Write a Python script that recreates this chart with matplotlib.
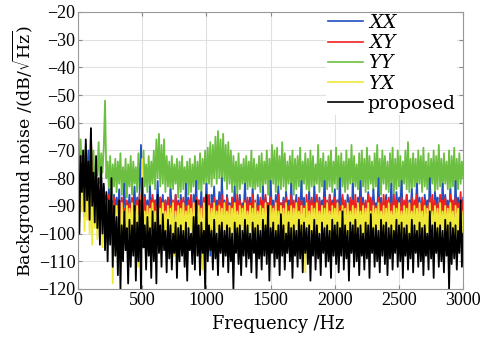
import numpy as np
import matplotlib
matplotlib.use('Agg')
import matplotlib.pyplot as plt

# Noise spectra, as magnitudes in dB/sqrt(Hz) (plotted negative),
# evenly spaced over 0-3000 Hz (10 Hz steps)
yy = -np.array([
    55, 78, 66, 80, 70, 83, 68, 76, 72, 82,  65, 80, 70, 84, 74, 79, 67, 82, 71, 78,
    69, 52, 80, 74, 84, 72, 86, 75, 83, 73,  85, 74, 82, 71, 86, 76, 84, 73, 87, 75,
    83, 72, 86, 74, 82, 76, 85, 71, 84, 73,  86, 70, 83, 75, 85, 72, 84, 74, 82, 70,
    84, 66, 80, 64, 83, 68, 82, 66, 85, 72,  83, 74, 86, 72, 84, 75, 82, 73, 87, 74,
    85, 72, 84, 76, 83, 74, 86, 73, 85, 75,  83, 72, 85, 74, 84, 71, 86, 73, 82, 70,
    84, 69, 82, 67, 83, 68, 80, 65, 82, 63,  80, 66, 83, 64, 81, 68, 84, 67, 82, 70,
    85, 72, 83, 74, 86, 71, 84, 75, 82, 73,  85, 72, 84, 74, 83, 70, 86, 73, 84, 75,
    83, 72, 85, 71, 84, 74, 82, 70, 86, 73,  84, 68, 82, 70, 85, 69, 83, 72, 84, 67,
    83, 71, 85, 74, 82, 72, 84, 70, 86, 73,  84, 72, 83, 69, 85, 74, 82, 71, 84, 73,
    86, 70, 83, 72, 84, 75, 82, 68, 85, 73,  83, 71, 86, 74, 84, 72, 83, 70, 85, 74,
    82, 69, 84, 72, 86, 71, 83, 74, 85, 70,  84, 73, 82, 68, 85, 72, 83, 75, 84, 71,
    86, 70, 83, 73, 85, 69, 84, 72, 82, 74,  85, 71, 83, 68, 84, 73, 86, 70, 82, 72,
    84, 74, 85, 71, 83, 69, 86, 73, 84, 70,  83, 72, 85, 74, 82, 70, 84, 67, 85, 73,
    84, 71, 83, 73, 86, 70, 82, 72, 85, 69,  83, 74, 84, 71, 86, 73, 82, 70, 85, 72,
    84, 68, 83, 73, 85, 71, 82, 74, 84, 70,  86, 72, 83, 69, 85, 73, 84, 71, 82, 74,
    80])
xx = -np.array([
    70, 95, 74, 88, 72, 90, 76, 86, 70, 92,  78, 96, 82, 90, 76, 94, 84, 92, 80, 95,
    83, 91, 86, 94, 84, 90, 88, 95, 86, 92,  87, 93, 84, 96, 88, 91, 82, 94, 89, 92,
    86, 93, 88, 90, 83, 95, 87, 92, 85, 68,  89, 94, 86, 91, 88, 95, 83, 92, 87, 93,
    88, 92, 81, 94, 87, 91, 86, 95, 88, 92,  87, 93, 84, 90, 89, 96, 86, 92, 88, 94,
    86, 91, 88, 95, 82, 93, 87, 90, 89, 94,  86, 92, 81, 95, 88, 91, 85, 94, 88, 92,
    82, 93, 87, 108, 86, 92, 83, 95, 88, 91, 85, 94, 80, 92, 88, 95, 86, 90, 89, 93,
    87, 92, 83, 95, 88, 91, 86, 94, 89, 92,  82, 93, 88, 90, 87, 95, 84, 92, 89, 94,
    86, 91, 88, 95, 83, 93, 87, 90, 89, 94,  81, 92, 88, 95, 86, 91, 83, 94, 89, 92,
    87, 93, 85, 90, 88, 95, 82, 92, 89, 91,  86, 94, 88, 92, 81, 95, 87, 91, 89, 93,
    85, 92, 88, 94, 83, 90, 89, 95, 87, 92,  88, 91, 81, 93, 89, 95, 86, 92, 88, 90,
    84, 94, 88, 92, 80, 95, 87, 91, 89, 93,  86, 90, 88, 94, 82, 92, 89, 95, 87, 91,
    81, 93, 87, 92, 89, 95, 85, 90, 88, 94,  84, 91, 89, 93, 80, 95, 87, 92, 89, 90,
    86, 94, 88, 91, 82, 93, 89, 95, 85, 92,  87, 90, 81, 94, 89, 92, 86, 95, 88, 91,
    84, 93, 89, 90, 82, 94, 87, 92, 89, 95,  86, 91, 88, 93, 80, 92, 89, 94, 85, 90,
    87, 95, 89, 92, 82, 93, 86, 91, 88, 94,  84, 92, 89, 95, 81, 93, 87, 90, 89, 92,
    87])
xy = -np.array([
    68, 92, 72, 88, 75, 94, 70, 90, 82, 95,  62, 91, 80, 94, 84, 96, 86, 93, 82, 95,
    85, 92, 88, 97, 86, 94, 89, 96, 87, 93,  90, 95, 88, 97, 87, 94, 91, 96, 88, 93,
    89, 96, 87, 94, 90, 97, 88, 93, 86, 95,  89, 96, 87, 93, 90, 95, 88, 97, 86, 94,
    88, 95, 90, 93, 87, 96, 89, 94, 88, 97,  87, 94, 90, 96, 88, 93, 86, 95, 89, 97,
    88, 94, 87, 96, 90, 93, 88, 95, 86, 94,  89, 97, 87, 93, 88, 96, 90, 94, 87, 95,
    88, 93, 86, 96, 89, 94, 87, 97, 90, 93,  88, 95, 86, 94, 89, 96, 87, 93, 90, 95,
    87, 94, 89, 96, 86, 93, 88, 95, 90, 94,  88, 96, 87, 93, 89, 95, 86, 94, 88, 97,
    90, 93, 87, 95, 88, 94, 86, 96, 89, 93,  87, 95, 90, 94, 88, 96, 86, 93, 89, 95,
    88, 94, 87, 96, 90, 93, 86, 95, 88, 94,  89, 96, 87, 93, 88, 95, 90, 94, 86, 96,
    88, 93, 87, 95, 89, 94, 86, 96, 88, 93,  90, 95, 87, 94, 88, 96, 86, 93, 89, 95,
    87, 94, 88, 96, 90, 93, 86, 95, 88, 94,  89, 96, 87, 93, 88, 95, 86, 94, 90, 96,
    87, 93, 89, 95, 88, 94, 86, 96, 87, 93,  88, 95, 90, 94, 87, 96, 89, 93, 86, 95,
    88, 94, 87, 96, 89, 93, 86, 95, 88, 94,  90, 96, 87, 93, 88, 95, 86, 94, 89, 96,
    87, 93, 88, 95, 86, 94, 89, 96, 87, 93,  88, 95, 90, 94, 87, 96, 86, 93, 88, 95,
    89, 94, 86, 96, 88, 93, 87, 95, 90, 94,  86, 96, 88, 93, 87, 95, 89, 94, 85, 96,
    88])
yx = -np.array([
    70, 96, 73, 92, 75, 99, 72, 95, 78, 100,  80, 104, 82, 98, 86, 102, 88, 100, 90, 105,
    89, 99, 88, 102, 91, 100, 89, 118, 92, 99,  90, 101, 91, 110, 89, 100, 92, 104, 90, 99,
    91, 101, 89, 100, 92, 99, 90, 112, 91, 100,  73, 99, 92, 102, 90, 100, 91, 99, 89, 101,
    92, 100, 90, 99, 91, 102, 89, 100, 92, 99,  90, 101, 91, 100, 89, 108, 92, 102, 90, 100,
    91, 99, 89, 101, 92, 100, 90, 99, 91, 102,  89, 100, 92, 99, 90, 101, 91, 113, 89, 99,
    92, 102, 90, 100, 91, 99, 89, 101, 92, 100,  90, 99, 91, 102, 89, 100, 92, 99, 90, 101,
    91, 100, 89, 99, 92, 102, 90, 100, 91, 99,  89, 101, 92, 100, 90, 99, 91, 102, 89, 100,
    92, 99, 90, 101, 91, 100, 89, 99, 92, 102,  90, 100, 91, 99, 89, 101, 92, 100, 90, 99,
    91, 102, 89, 100, 92, 99, 90, 101, 91, 100,  89, 99, 92, 102, 90, 100, 91, 114, 89, 101,
    92, 100, 90, 99, 91, 102, 89, 100, 92, 99,  90, 101, 91, 100, 89, 99, 92, 102, 90, 100,
    91, 99, 89, 101, 92, 100, 90, 99, 91, 102,  89, 100, 92, 99, 90, 101, 91, 100, 89, 99,
    92, 102, 90, 100, 91, 99, 89, 101, 92, 100,  90, 99, 91, 102, 89, 100, 92, 99, 90, 101,
    91, 100, 89, 99, 92, 102, 90, 100, 91, 99,  89, 101, 92, 100, 90, 99, 91, 102, 89, 100,
    92, 99, 90, 101, 91, 100, 89, 99, 92, 102,  90, 100, 91, 99, 89, 101, 92, 100, 90, 99,
    91, 102, 89, 100, 92, 99, 90, 101, 91, 100,  89, 99, 92, 102, 90, 100, 91, 99, 89, 101,
    92])
proposed = -np.array([
    68, 100, 72, 85, 70, 92, 66, 88, 74, 95,  62, 90, 78, 96, 72, 98, 80, 104, 76, 100,
    82, 106, 85, 110, 88, 104, 80, 112, 90, 108,  94, 115, 88, 120, 97, 110, 92, 106, 98, 118,
    95, 112, 97, 108, 90, 117, 96, 110, 88, 120,  80, 105, 97, 113, 94, 108, 98, 116, 92, 110,
    96, 118, 86, 107, 97, 112, 93, 106, 99, 114,  95, 109, 97, 113, 100, 107, 96, 116, 98, 110,
    97, 108, 99, 112, 96, 117, 98, 106, 100, 111,  94, 113, 88, 108, 97, 115, 96, 107, 99, 120,
    86, 110, 97, 106, 99, 113, 95, 109, 100, 115,  97, 107, 96, 112, 99, 108, 97, 114, 98, 110,
    100, 120, 96, 107, 98, 111, 97, 115, 99, 108,  95, 112, 97, 109, 100, 114, 96, 107, 98, 116,
    97, 109, 99, 113, 95, 108, 97, 111, 90, 117,  98, 107, 96, 112, 99, 109, 97, 115, 93, 108,
    97, 113, 100, 107, 96, 110, 98, 116, 97, 108,  99, 112, 95, 109, 97, 114, 96, 107, 98, 111,
    97, 117, 99, 108, 95, 113, 97, 109, 100, 115,  96, 107, 98, 112, 97, 110, 99, 116, 95, 108,
    97, 111, 96, 114, 98, 108, 92, 113, 97, 109,  99, 117, 96, 107, 97, 112, 95, 110, 98, 115,
    97, 108, 100, 113, 96, 109, 97, 116, 93, 107,  98, 112, 97, 110, 99, 114, 95, 108, 97, 111,
    96, 115, 98, 109, 97, 113, 99, 107, 95, 112,  97, 110, 96, 116, 98, 108, 97, 113, 100, 109,
    95, 114, 97, 107, 99, 112, 96, 110, 98, 115,  97, 108, 100, 113, 92, 109, 97, 116, 96, 107,
    98, 112, 97, 110, 99, 114, 95, 108, 97, 120,  96, 111, 98, 109, 97, 113, 99, 107, 88, 112,
    100])

labels = ['XX', 'XY', 'YY', 'YX', 'proposed']
colors = ['#2050c0', '#f02020', '#6cbf40', '#f0e838', '#000000']

plt.rcParams['font.family'] = 'Liberation Serif'
plt.rcParams['mathtext.fontset'] = 'dejavuserif'

fig = plt.figure(figsize=(4.82, 3.42), dpi=100)
ax = fig.add_axes([0.162, 0.155, 0.799, 0.81])

series = [xx, xy, yy, yx, proposed]
draw_order = [2, 0, 1, 3, 4]
handles = [None] * 5
for k, i in enumerate(draw_order):
    vals = series[i]
    f = np.linspace(0, 3000, len(vals))
    h, = ax.plot(f, vals, color=colors[i], lw=1.3, zorder=2 + k)
    handles[i] = h

ax.set_xlim(0, 3000)
ax.set_ylim(-120, -20)
ax.set_xticks(np.arange(0, 3001, 500))
ax.set_yticks(np.arange(-120, -19, 10))
ax.tick_params(labelsize=13, direction='in', top=True, right=True, length=3,
               color='#888888', pad=2)
ax.grid(True, color='#e0e0e0', lw=0.8)
ax.set_axisbelow(True)
for s in ax.spines.values():
    s.set_color('#999999')
    s.set_zorder(12)

ax.set_xlabel('Frequency /Hz', fontsize=12.8, family='DejaVu Serif')
ax.xaxis.set_label_coords(0.52, -0.095)
ax.set_ylabel(r'Background noise /(dB/$\sqrt{\mathrm{Hz}}$)', fontsize=12.5,
              family='DejaVu Serif', labelpad=1)

leg_labels = [r'$XX$', r'$XY$', r'$YY$', r'$YX$', 'proposed']
leg = ax.legend(handles, leg_labels, loc='upper right', bbox_to_anchor=(0.985, 1.0),
                prop={'family': 'DejaVu Serif', 'size': 13.5}, frameon=True,
                facecolor='white', edgecolor='none', framealpha=1, fancybox=False,
                handlelength=1.85, handletextpad=0.25, labelspacing=0.12,
                borderpad=0.1, borderaxespad=0.0)
for lh in leg.get_lines():
    lh.set_linewidth(1.2)
leg.set_zorder(10)

fig.savefig('out.png', dpi=100)
